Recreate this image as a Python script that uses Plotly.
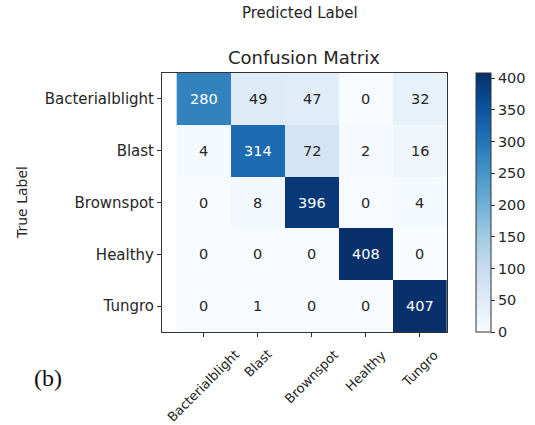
import plotly.graph_objects as go

labels = ["Bacterialblight", "Blast", "Brownspot", "Healthy", "Tungro"]
matrix = [
    [280, 49, 47, 0, 32],
    [4, 314, 72, 2, 16],
    [0, 8, 396, 0, 4],
    [0, 0, 0, 408, 0],
    [0, 1, 0, 0, 407],
]
cbar_ticks = [0, 50, 100, 150, 200, 250, 300, 350, 400]

FONT = "DejaVu Sans"
TXT = "#262626"
vmax = max(max(r) for r in matrix)

# plot area in pixels
L, R, T, B = 162, 447, 73, 332
W, H = 535, 425
PW, PH = R - L, B - T


def px(x):
    return (x - L) / PW


def py(y):
    return (B - y) / PH


fig = go.Figure(go.Heatmap(
    z=matrix, x=labels, y=labels,
    colorscale="Blues", zmin=0, zmax=vmax,
    colorbar=dict(
        x=px(476), xanchor="left", xpad=0, ypad=0,
        y=0, yanchor="bottom", len=1, lenmode="fraction",
        thickness=15, outlinecolor="#333", outlinewidth=1,
        tickvals=cbar_ticks, ticks="outside", ticklen=4, tickcolor="#333",
        tickfont=dict(family=FONT, size=14.5, color=TXT),
    ),
    hoverinfo="skip",
))

annotations = []
for i, row in enumerate(matrix):
    for j, v in enumerate(row):
        annotations.append(dict(
            x=labels[j], y=labels[i], text=str(v), showarrow=False,
            font=dict(family=FONT, size=14.5, color="white" if v > vmax / 2 else TXT),
        ))

# rotated x tick labels, centred under each tick (matplotlib style)
for lab in labels:
    annotations.append(dict(
        x=lab, xref="x", y=0, yref="paper", text=lab, textangle=-45,
        xanchor="center", yanchor="top", yshift=-12, showarrow=False,
        font=dict(family=FONT, size=13, color=TXT),
    ))

annotations += [
    dict(text="Confusion Matrix", x=px(304), y=py(58), xref="paper", yref="paper",
         xanchor="center", yanchor="middle", showarrow=False,
         font=dict(family=FONT, size=18, color=TXT)),
    dict(text="Predicted Label", x=px(300), y=py(13), xref="paper", yref="paper",
         xanchor="center", yanchor="middle", showarrow=False,
         font=dict(family=FONT, size=15, color=TXT)),
    dict(text="True Label", x=px(22), y=py(203), xref="paper", yref="paper",
         textangle=-90, xanchor="center", yanchor="middle", showarrow=False,
         font=dict(family=FONT, size=14, color=TXT)),
    dict(text="(b)", x=px(48), y=py(378), xref="paper", yref="paper",
         xanchor="center", yanchor="middle", showarrow=False,
         font=dict(family="Liberation Serif", size=24, color="#111")),
]

fig.update_layout(
    width=W, height=H,
    margin=dict(l=L, r=W - R, t=T, b=H - B, autoexpand=False),
    paper_bgcolor="white", plot_bgcolor="white",
    annotations=annotations,
    font=dict(family=FONT, color=TXT),
)
fig.update_xaxes(
    showticklabels=False, ticks="outside", ticklen=4, tickcolor="#333",
    showline=True, linecolor="#333", linewidth=1, mirror=True,
    showgrid=False, automargin=False,
)
fig.update_yaxes(
    autorange="reversed", ticks="outside", ticklen=4, tickcolor="#333",
    showline=True, linecolor="#333", linewidth=1, mirror=True,
    tickfont=dict(family=FONT, size=15, color=TXT), showgrid=False, automargin=False,
)

fig.write_html(
    "out.html",
    config={"displayModeBar": False},
    post_script="document.body.style.margin='0';document.body.style.overflow='hidden';",
)
